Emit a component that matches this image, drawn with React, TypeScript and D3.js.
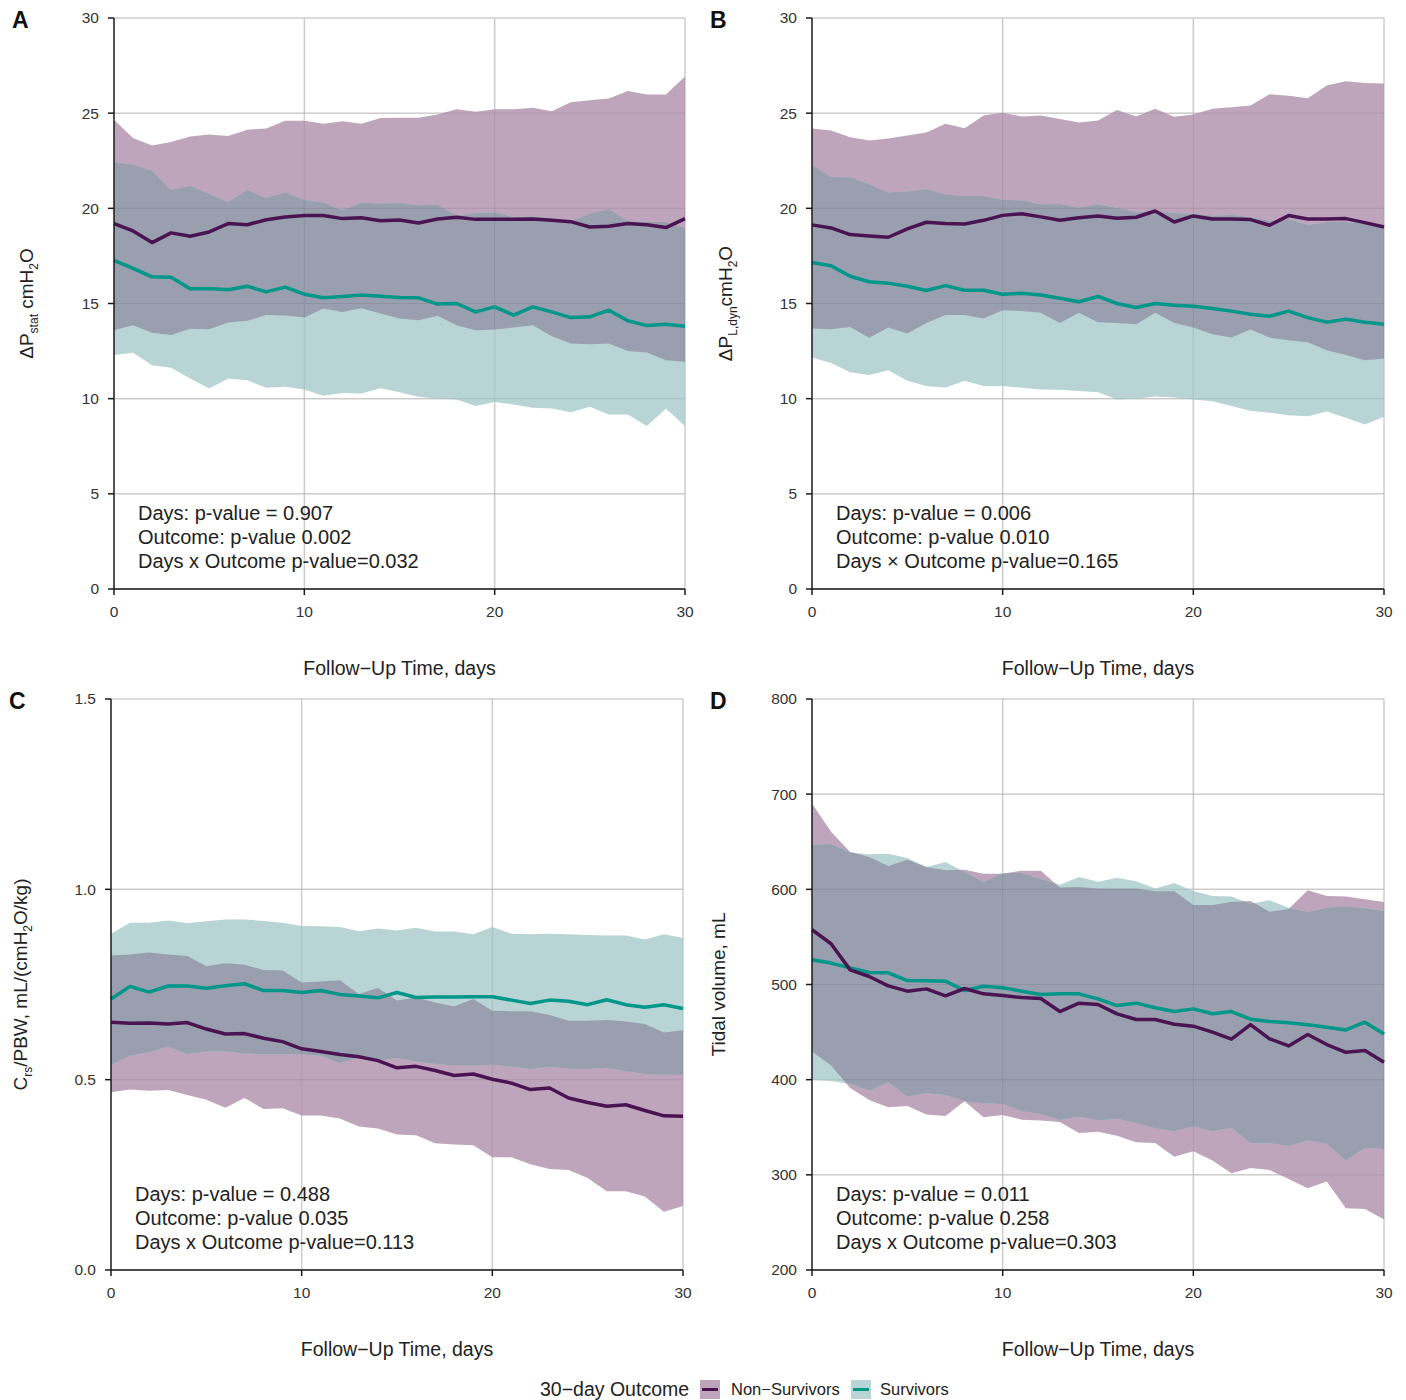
import React from 'react';
import * as d3 from 'd3';

const days = [0, 1, 2, 3, 4, 5, 6, 7, 8, 9, 10, 11, 12, 13, 14, 15, 16, 17, 18, 19, 20, 21, 22, 23, 24, 25, 26, 27, 28, 29, 30];

// A: delta P stat
const aNonHi = [24.65, 23.7, 23.3, 23.48, 23.78, 23.88, 23.8, 24.13, 24.2, 24.6, 24.6, 24.44, 24.58, 24.44, 24.74, 24.76, 24.76, 24.93, 25.2, 25.07, 25.2, 25.2, 25.28, 25.1, 25.58, 25.68, 25.77, 26.17, 25.98, 25.98, 26.92];
const aNonMed = [19.2, 18.81, 18.2, 18.71, 18.53, 18.76, 19.2, 19.14, 19.4, 19.55, 19.62, 19.62, 19.46, 19.51, 19.35, 19.39, 19.23, 19.44, 19.53, 19.42, 19.42, 19.42, 19.44, 19.37, 19.3, 19.02, 19.06, 19.2, 19.14, 18.99, 19.46];
const aNonLo = [13.6, 13.86, 13.46, 13.34, 13.67, 13.65, 14.0, 14.09, 14.39, 14.37, 14.26, 14.74, 14.56, 14.75, 14.47, 14.21, 14.12, 14.35, 13.86, 13.6, 13.63, 13.74, 13.86, 13.28, 12.9, 12.86, 12.9, 12.51, 12.43, 12.02, 11.94];
const aSurHi = [22.43, 22.3, 21.98, 20.96, 21.19, 20.77, 20.33, 20.98, 20.54, 20.84, 20.45, 20.31, 19.9, 20.3, 20.26, 20.28, 20.16, 20.19, 19.62, 19.76, 19.8, 19.55, 19.58, 19.46, 19.34, 19.72, 19.97, 19.34, 19.28, 19.28, 18.97];
const aSurMed = [17.26, 16.84, 16.4, 16.38, 15.77, 15.79, 15.72, 15.91, 15.61, 15.86, 15.49, 15.3, 15.37, 15.45, 15.38, 15.31, 15.3, 14.97, 15.0, 14.56, 14.82, 14.39, 14.82, 14.56, 14.26, 14.3, 14.65, 14.09, 13.84, 13.91, 13.81];
const aSurLo = [12.29, 12.41, 11.76, 11.62, 11.06, 10.53, 11.06, 10.97, 10.57, 10.62, 10.48, 10.15, 10.3, 10.27, 10.55, 10.34, 10.1, 10.0, 9.96, 9.61, 9.83, 9.69, 9.52, 9.48, 9.29, 9.57, 9.17, 9.17, 8.57, 9.48, 8.55];

// B: delta P L,dyn
const bNonHi = [24.2, 24.09, 23.74, 23.57, 23.67, 23.83, 23.99, 24.44, 24.21, 24.88, 25.02, 24.83, 24.88, 24.69, 24.51, 24.62, 25.17, 24.83, 25.23, 24.81, 24.93, 25.23, 25.31, 25.4, 26.0, 25.91, 25.79, 26.45, 26.68, 26.59, 26.56];
const bNonMed = [19.13, 18.97, 18.62, 18.55, 18.48, 18.92, 19.27, 19.2, 19.18, 19.37, 19.63, 19.72, 19.55, 19.37, 19.51, 19.6, 19.48, 19.53, 19.86, 19.28, 19.6, 19.44, 19.44, 19.41, 19.11, 19.62, 19.44, 19.44, 19.46, 19.25, 19.02];
const bNonLo = [13.69, 13.65, 13.77, 13.2, 13.74, 13.42, 13.98, 14.39, 14.39, 14.21, 14.65, 14.61, 14.51, 13.98, 14.51, 14.02, 13.98, 13.91, 14.51, 13.98, 13.74, 13.39, 13.21, 13.63, 13.21, 13.07, 12.97, 12.55, 12.29, 12.02, 12.11];
const bSurHi = [22.29, 21.64, 21.63, 21.26, 20.84, 20.89, 21.01, 20.73, 20.65, 20.65, 20.45, 20.42, 20.21, 20.23, 20.03, 20.21, 20.03, 19.79, 19.88, 19.76, 19.72, 19.63, 19.65, 19.55, 19.35, 19.44, 19.13, 19.28, 19.28, 19.2, 19.09];
const bSurMed = [17.15, 16.98, 16.43, 16.14, 16.07, 15.91, 15.68, 15.94, 15.7, 15.7, 15.49, 15.54, 15.45, 15.28, 15.09, 15.37, 15.0, 14.79, 15.0, 14.91, 14.86, 14.74, 14.6, 14.44, 14.33, 14.6, 14.26, 14.02, 14.18, 14.02, 13.91];
const bSurLo = [12.16, 11.88, 11.39, 11.25, 11.49, 10.94, 10.66, 10.59, 10.94, 10.66, 10.66, 10.57, 10.48, 10.47, 10.4, 10.34, 9.96, 10.0, 10.12, 10.06, 9.96, 9.87, 9.61, 9.36, 9.26, 9.13, 9.08, 9.33, 9.0, 8.64, 9.05];

// C: Crs / PBW
const cNonHi = [0.826, 0.829, 0.834, 0.829, 0.825, 0.798, 0.806, 0.802, 0.788, 0.787, 0.755, 0.758, 0.761, 0.725, 0.741, 0.708, 0.716, 0.703, 0.692, 0.712, 0.681, 0.68, 0.68, 0.67, 0.655, 0.655, 0.657, 0.653, 0.646, 0.624, 0.63];
const cNonMed = [0.651, 0.648, 0.649, 0.646, 0.65, 0.633, 0.62, 0.621, 0.609, 0.6, 0.581, 0.574, 0.566, 0.56, 0.55, 0.531, 0.535, 0.524, 0.511, 0.515, 0.501, 0.491, 0.474, 0.478, 0.452, 0.44, 0.43, 0.434, 0.419, 0.405, 0.404];
const cNonLo = [0.467, 0.474, 0.471, 0.473, 0.46, 0.447, 0.426, 0.452, 0.423, 0.425, 0.406, 0.406, 0.398, 0.377, 0.372, 0.356, 0.354, 0.333, 0.33, 0.328, 0.296, 0.296, 0.278, 0.265, 0.263, 0.242, 0.207, 0.207, 0.193, 0.153, 0.168];
const cSurHi = [0.883, 0.912, 0.912, 0.918, 0.911, 0.916, 0.921, 0.921, 0.917, 0.912, 0.904, 0.903, 0.901, 0.89, 0.897, 0.892, 0.899, 0.889, 0.889, 0.882, 0.901, 0.883, 0.882, 0.883, 0.882, 0.88, 0.879, 0.879, 0.868, 0.882, 0.872];
const cSurMed = [0.712, 0.745, 0.73, 0.746, 0.746, 0.74, 0.747, 0.752, 0.734, 0.734, 0.729, 0.734, 0.724, 0.72, 0.715, 0.729, 0.716, 0.717, 0.717, 0.718, 0.718, 0.709, 0.7, 0.709, 0.706, 0.697, 0.71, 0.697, 0.69, 0.697, 0.687];
const cSurLo = [0.539, 0.563, 0.572, 0.587, 0.567, 0.574, 0.574, 0.569, 0.566, 0.567, 0.566, 0.563, 0.543, 0.559, 0.55, 0.557, 0.548, 0.541, 0.537, 0.537, 0.539, 0.534, 0.528, 0.534, 0.529, 0.528, 0.531, 0.522, 0.515, 0.513, 0.512];

// D: tidal volume
const dNonHi = [690.2, 660.4, 639.3, 634, 624.6, 631, 623.5, 620, 620.7, 616.5, 616.5, 619.6, 619.6, 601.8, 602.5, 601, 601, 601, 598, 598, 583.5, 583.5, 586.7, 587.7, 576.5, 579.3, 599, 593, 592.6, 589.5, 586.7];
const dNonMed = [557.5, 542.8, 515.4, 508.4, 498.6, 493, 495.4, 488.1, 495.8, 490.2, 488.4, 486.3, 485.3, 471.6, 480.4, 479, 469.2, 463.2, 463.2, 458.3, 456.2, 449.9, 442.5, 457.9, 442.9, 435.5, 447.4, 436.9, 428.8, 430.6, 418.3];
const dNonLo = [429.5, 414.8, 391.3, 378.7, 371, 372.4, 363.3, 361.9, 377.3, 360.5, 363, 358, 357, 355.6, 344, 345.4, 341.2, 334.2, 333.5, 319.1, 324.8, 315, 301.6, 307.2, 305.1, 295.7, 285.9, 292.9, 264.9, 264.2, 253];
const dSurHi = [646.7, 648, 638.6, 636.8, 637.5, 633, 623.5, 628.8, 618.2, 607.4, 617.2, 617.2, 611.2, 604.9, 613, 608, 612.3, 608.4, 601, 606.7, 598.2, 593, 592.6, 584.9, 588.4, 580.7, 576.1, 580.7, 582, 580, 577.2];
const dSurMed = [526, 522.5, 517.5, 512.6, 512.3, 504.2, 503.9, 503.5, 493.7, 498.2, 496.5, 493, 489.5, 490.2, 490.2, 484.9, 477.9, 480.4, 475.5, 471.6, 474.4, 469.2, 471.6, 463.5, 461.1, 459.7, 457.6, 455.1, 452.3, 460.4, 448.1];
const dSurLo = [400, 398.7, 395.5, 388.5, 397, 382.2, 385.7, 384, 377.3, 375.2, 374.5, 366.8, 364, 357.7, 361.2, 357, 359, 354.1, 348.9, 345.8, 350.7, 345.8, 349.3, 333.2, 333.2, 330.4, 336, 332.5, 315, 328.3, 327.2];

const xTicks = [0, 10, 20, 30];
const abTicks = [0, 5, 10, 15, 20, 25, 30];
const cTicks = [0, 0.5, 1.0, 1.5];
const dTicks = [200, 300, 400, 500, 600, 700, 800];

const notesA = ['Days: p-value = 0.907', 'Outcome: p-value 0.002', 'Days x Outcome p-value=0.032'];
const notesB = ['Days: p-value = 0.006', 'Outcome: p-value 0.010', 'Days \u00d7 Outcome p-value=0.165'];
const notesC = ['Days: p-value = 0.488', 'Outcome: p-value 0.035', 'Days x Outcome p-value=0.113'];
const notesD = ['Days: p-value = 0.011', 'Outcome: p-value 0.258', 'Days x Outcome p-value=0.303'];

const PURPLE = '#4a1452';
const TEAL = '#00968a';
const PURPLE_BAND = '#bea5bc';
const TEAL_BAND = '#b8d4d5';
const OVERLAP = '#999fae';
const GRID = '#d9d9d9';
const SANS = "'Liberation Sans', Arial, Helvetica, sans-serif";

type Group = { lo: number[]; med: number[]; hi: number[] };

type PanelProps = {
  id: string;
  letter: string;
  left: number;
  right: number;
  top: number;
  bottom: number;
  domain: [number, number];
  ticks: number[];
  fmt: (v: number) => string;
  yTitle: React.ReactNode;
  yTitleX: number;
  notes: string[];
  non: Group;
  sur: Group;
};

function Panel(p: PanelProps) {
  const x = d3.scaleLinear().domain([0, 30]).range([p.left, p.right]);
  const y = d3.scaleLinear().domain(p.domain).range([p.bottom, p.top]);
  const idx = days.map((_, i) => i);
  const band = (g: Group) =>
    d3.area<number>().x(i => x(days[i])).y0(i => y(g.lo[i])).y1(i => y(g.hi[i]))(idx) || '';
  const med = (g: Group) =>
    d3.line<number>().x(i => x(days[i])).y(i => y(g.med[i]))(idx) || '';
  const nonPath = band(p.non);
  const surPath = band(p.sur);
  const midY = (p.top + p.bottom) / 2;
  const midX = (p.left + p.right) / 2;

  const grid = (stroke: string, w: number) => (
    <g stroke={stroke} strokeWidth={w}>
      {p.ticks.map(t => (
        <line key={'h' + t} x1={p.left} x2={p.right} y1={y(t)} y2={y(t)} />
      ))}
      {xTicks.filter(t => t > 0).map(t => (
        <line key={'v' + t} x1={x(t)} x2={x(t)} y1={p.top} y2={p.bottom} />
      ))}
    </g>
  );

  return (
    <g>
      <defs>
        <clipPath id={'clip-' + p.id}>
          <path d={nonPath} />
        </clipPath>
      </defs>
      {grid(GRID, 1.5)}
      <path d={nonPath} fill={PURPLE_BAND} />
      <path d={surPath} fill={TEAL_BAND} />
      <path d={surPath} fill={OVERLAP} clipPath={`url(#clip-${p.id})`} />
      {grid('rgba(0,0,0,0.07)', 1.2)}
      <path d={med(p.sur)} fill="none" stroke={TEAL} strokeWidth={3.5} strokeLinejoin="round" />
      <path d={med(p.non)} fill="none" stroke={PURPLE} strokeWidth={3.5} strokeLinejoin="round" />

      {/* axes */}
      <g stroke="#1a1a1a" strokeWidth={1.5}>
        <line x1={p.left} x2={p.left} y1={p.top} y2={p.bottom} />
        <line x1={p.left} x2={p.right} y1={p.bottom} y2={p.bottom} />
        {p.ticks.map(t => (
          <line key={t} x1={p.left - 6} x2={p.left} y1={y(t)} y2={y(t)} />
        ))}
        {xTicks.map(t => (
          <line key={t} x1={x(t)} x2={x(t)} y1={p.bottom} y2={p.bottom + 6} />
        ))}
      </g>
      <g fontFamily={SANS} fontSize={15.5} fill="#333">
        {p.ticks.map(t => (
          <text key={t} x={p.left - 15} y={y(t)} dy="0.35em" textAnchor="end">
            {p.fmt(t)}
          </text>
        ))}
        {xTicks.map(t => (
          <text key={t} x={x(t)} y={p.bottom + 28} textAnchor="middle">
            {t}
          </text>
        ))}
      </g>

      <text x={midX} y={p.bottom + 86} textAnchor="middle" fontFamily={SANS} fontSize={19.5} fill="#222">
        Follow{'\u2212'}Up Time, days
      </text>
      <text
        transform={`translate(${p.yTitleX},${midY}) rotate(-90)`}
        textAnchor="middle"
        fontFamily={SANS}
        fontSize={19}
        fill="#222"
      >
        {p.yTitle}
      </text>
      <text x={p.left - 102} y={p.top + 10} fontFamily={SANS} fontWeight="bold" fontSize={23} fill="#111">
        {p.letter}
      </text>

      <g fontFamily={SANS} fontSize={20} fill="#222">
        {p.notes.map((n, i) => (
          <text key={i} x={p.left + 24} y={p.bottom - 69 + i * 24}>
            {n}
          </text>
        ))}
      </g>
    </g>
  );
}

const sub = (s: string) => (
  <tspan fontSize={12} dy={5}>
    {s}
  </tspan>
);
const up = (s: string) => <tspan dy={-5}>{s}</tspan>;

export default function App() {
  const fmt0 = (v: number) => String(v);
  const fmt1 = (v: number) => v.toFixed(1);
  return (
    <svg
      width={1406}
      height={1400}
      style={{ position: 'absolute', left: 0, top: 0, background: '#fff' }}
    >
      <rect width={1406} height={1400} fill="#fff" />
      <Panel
        id="a"
        letter="A"
        left={114}
        right={685}
        top={18}
        bottom={589}
        domain={[0, 30]}
        ticks={abTicks}
        fmt={fmt0}
        yTitle={<>{'\u0394P'}{sub('stat')}{up(' cmH')}{sub('2')}{up('O')}</>}
        yTitleX={33}
        notes={notesA}
        non={{ lo: aNonLo, med: aNonMed, hi: aNonHi }}
        sur={{ lo: aSurLo, med: aSurMed, hi: aSurHi }}
      />
      <Panel
        id="b"
        letter="B"
        left={812}
        right={1384}
        top={18}
        bottom={589}
        domain={[0, 30]}
        ticks={abTicks}
        fmt={fmt0}
        yTitle={<>{'\u0394P'}{sub('L,dyn')}{up('cmH')}{sub('2')}{up('O')}</>}
        yTitleX={732}
        notes={notesB}
        non={{ lo: bNonLo, med: bNonMed, hi: bNonHi }}
        sur={{ lo: bSurLo, med: bSurMed, hi: bSurHi }}
      />
      <Panel
        id="c"
        letter="C"
        left={111}
        right={683}
        top={699}
        bottom={1270}
        domain={[0, 1.5]}
        ticks={cTicks}
        fmt={fmt1}
        yTitle={<>C{sub('rs')}{up('/PBW, mL/(cmH')}{sub('2')}{up('O/kg)')}</>}
        yTitleX={27}
        notes={notesC}
        non={{ lo: cNonLo, med: cNonMed, hi: cNonHi }}
        sur={{ lo: cSurLo, med: cSurMed, hi: cSurHi }}
      />
      <Panel
        id="d"
        letter="D"
        left={812}
        right={1384}
        top={699}
        bottom={1270}
        domain={[200, 800]}
        ticks={dTicks}
        fmt={fmt0}
        yTitle="Tidal volume, mL"
        yTitleX={725}
        notes={notesD}
        non={{ lo: dNonLo, med: dNonMed, hi: dNonHi }}
        sur={{ lo: dSurLo, med: dSurMed, hi: dSurHi }}
      />

      {/* legend */}
      <g fontFamily={SANS} fill="#222">
        <text x={540} y={1396} fontSize={19.5}>
          30{'\u2212'}day Outcome
        </text>
        <rect x={700} y={1380} width={20} height={19} fill={PURPLE_BAND} />
        <line x1={702} x2={718} y1={1389.5} y2={1389.5} stroke={PURPLE} strokeWidth={3} />
        <text x={731} y={1395} fontSize={16.5}>
          Non{'\u2212'}Survivors
        </text>
        <rect x={851} y={1380} width={20} height={19} fill={TEAL_BAND} />
        <line x1={853} x2={869} y1={1389.5} y2={1389.5} stroke={TEAL} strokeWidth={3} />
        <text x={880} y={1395} fontSize={16.5}>
          Survivors
        </text>
      </g>
    </svg>
  );
}
